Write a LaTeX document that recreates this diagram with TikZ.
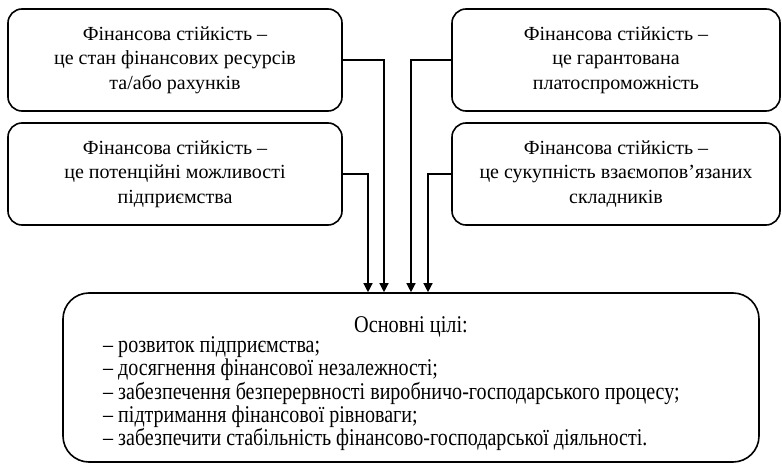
\documentclass[tikz,border=0pt]{standalone}
\usepackage{fontspec}
\setmainfont{Liberation Serif}
\usetikzlibrary{arrows.meta}
\begin{document}
\begin{tikzpicture}[x=1pt,y=1pt,
  defbox/.style={draw, line width=1.6pt, rounded corners=14pt,
    minimum height=102pt, align=center, inner sep=0pt,
    font=\fontsize{20}{24.5}\selectfont},
  goalbox/.style={draw, line width=1.6pt, rounded corners=26pt,
    minimum width=696pt, minimum height=169pt, inner sep=0pt},
  goaltext/.style={inner sep=0pt, font=\fontsize{24}{21.5}\selectfont},
  link/.style={line width=1.3pt, -{Triangle[width=9pt,length=9pt]}}]
\useasboundingbox (0,0) rectangle (782,464);

% four definitions of financial stability
\node[defbox, minimum width=334pt] (s1) at (175,404)
  {Фінансова стійкість –\\це стан фінансових ресурсів\\та/або рахунків};
\node[defbox, minimum width=334pt] (s2) at (175,290)
  {Фінансова стійкість –\\це потенційні можливості\\підприємства};
\node[defbox, minimum width=328pt] (s3) at (616,404)
  {Фінансова стійкість –\\це гарантована\\платоспроможність};
\node[defbox, minimum width=328pt] (s4) at (616,290)
  {Фінансова стійкість –\\це сукупність взаємопов’язаних\\складників};

% main goals, set in a narrowed face
\node[goalbox] (goals) at (411,86.5) {};
\node[goaltext] (gtitle) at (411,137) {\scalebox{0.845}[1]{Основні цілі:}};
\node[goaltext, anchor=west] (glist) at (103,69.5)
  {\scalebox{0.835}[1]{\begin{tabular}{@{}l@{}}
   – розвиток підприємства;\\
   – досягнення фінансової незалежності;\\
   – забезпечення безперервності виробничо-господарського процесу;\\
   – підтримання фінансової рівноваги;\\
   – забезпечити стабільність фінансово-господарської діяльності.
   \end{tabular}}};

% connectors
\draw[link] (s2.east) -| ([xshift=-43pt]goals.north);
\draw[link] (s1.east) -| ([xshift=-27pt]goals.north);
\draw[link] (s3.west) -| (goals.north);
\draw[link] (s4.west) -| ([xshift=17pt]goals.north);
\end{tikzpicture}
\end{document}
